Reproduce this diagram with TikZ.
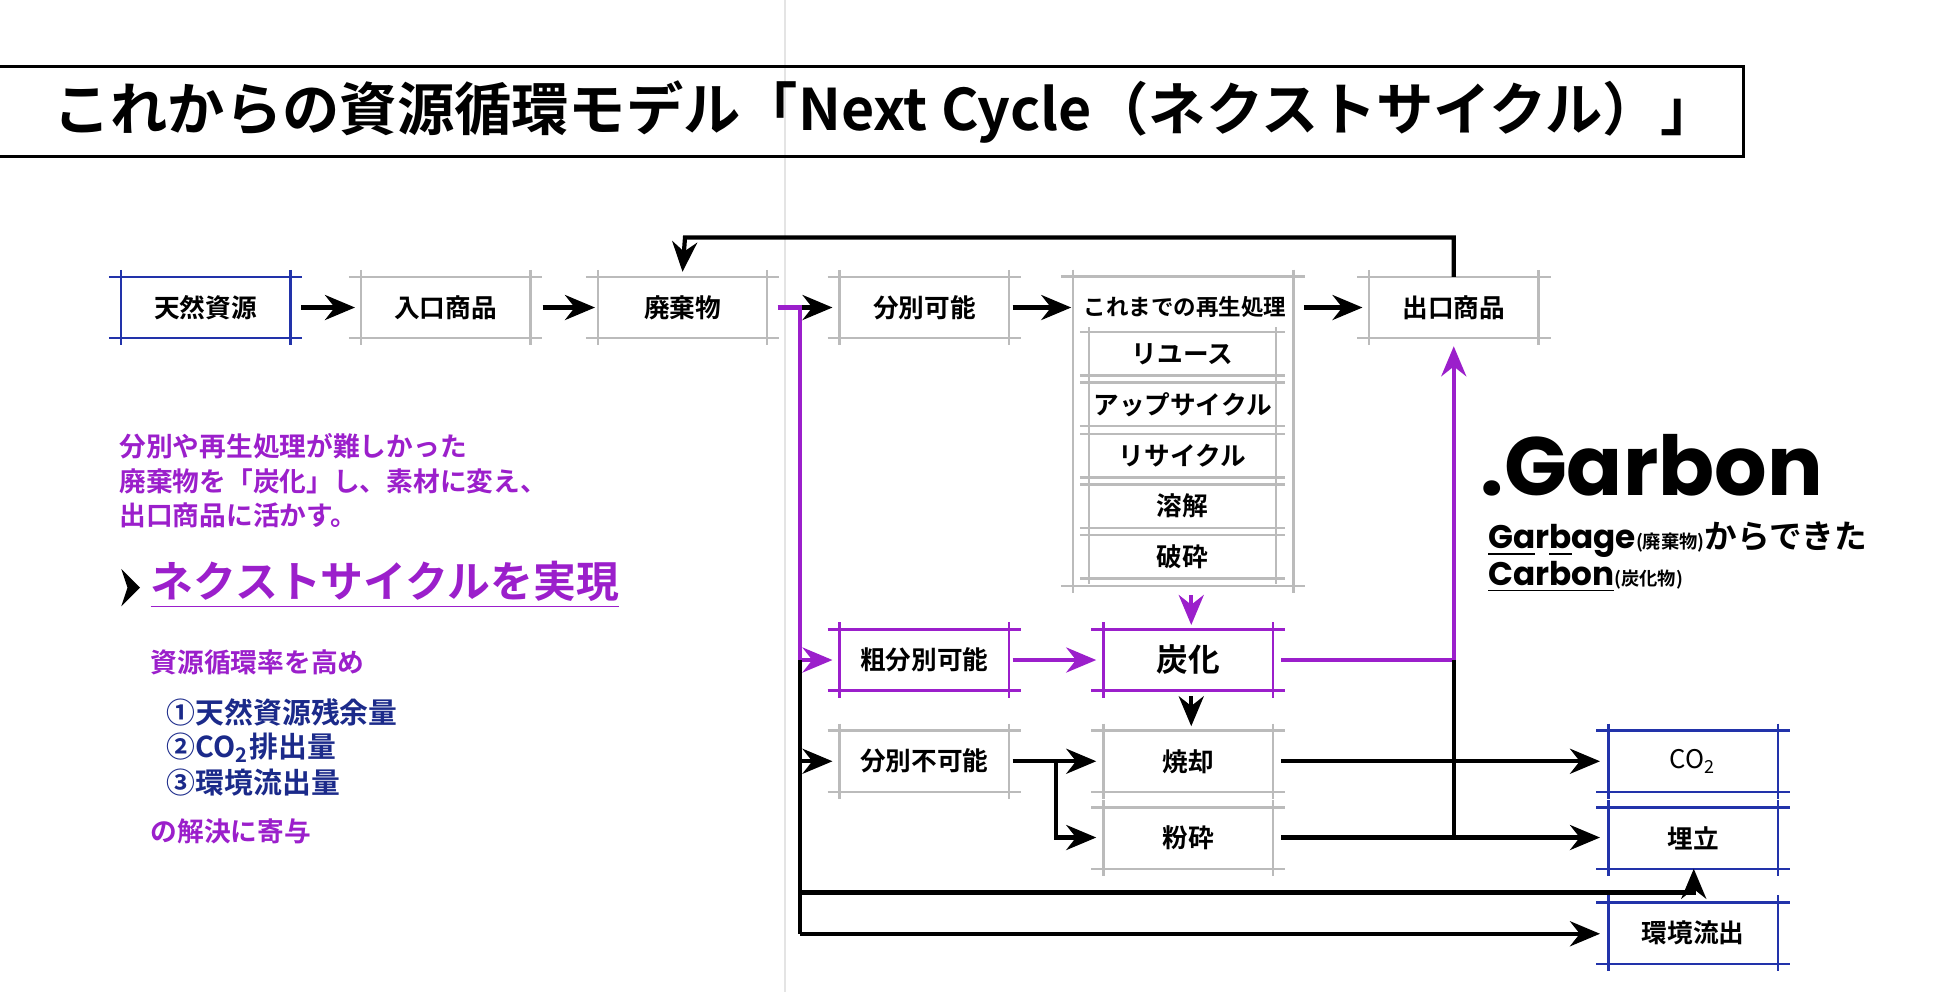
\documentclass[tikz,border=0pt]{standalone}
\usepackage{fontspec}
\setmainfont{Noto Sans CJK JP}[BoldFont={* Bold}]
\newfontfamily\pop{Poppins}
\usetikzlibrary{arrows.meta}
\definecolor{pur}{HTML}{9B1FCB}
\definecolor{bl}{HTML}{2233AA}
\definecolor{dbl}{HTML}{1B2A8A}
\definecolor{gr}{HTML}{BBBBBB}
\newcommand\frm[2]{%
 \draw[#2,line width=0.7pt] ([xshift=-1.2mm]#1.north west) -- ([xshift=1.2mm]#1.north east)
   ([xshift=-1.2mm]#1.south west) -- ([xshift=1.2mm]#1.south east)
   ([yshift=0.7mm]#1.north west) -- ([yshift=-0.7mm]#1.south west)
   ([yshift=0.7mm]#1.north east) -- ([yshift=-0.7mm]#1.south east);}
\begin{document}
\begin{tikzpicture}[x=0.0125cm,y=-0.0125cm,
 box/.style={minimum width=1.68cm,minimum height=0.6cm,inner sep=0pt,font=\fontsize{7.3pt}{8pt}\selectfont\bfseries},
 ibox/.style={minimum width=1.94cm,minimum height=0.42cm,inner sep=0pt,font=\fontsize{7.3pt}{8pt}\selectfont\bfseries},
 ar/.style={line width=1.2pt,-{Stealth[length=3mm,width=2.5mm]}},
 ln/.style={line width=1.2pt},
 lt/.style={anchor=west,inner sep=0pt,font=\fontsize{7.6pt}{9pt}\selectfont\bfseries}]
\useasboundingbox (0,0) rectangle (1560,793.6);
\draw[gr!40,line width=0.5pt] (628,0) -- (628,793.6);
% title
\draw[line width=0.9pt] (-5,53) rectangle (1395,125);
\node[anchor=west,inner sep=0pt,font=\fontsize{16.3pt}{18pt}\selectfont\bfseries] (title) at (42,90) {これからの資源循環モデル「Next Cycle（ネクストサイクル）」};
% row 1
\node[box] (tn) at (164.5,246) {天然資源};
\node[box] (ir) at (356.5,246) {入口商品};
\node[box] (hk) at (546,246) {廃棄物};
\node[box] (bk) at (739.5,246) {分別可能};
\node[box] (dg) at (1163,246) {出口商品};
\frm{tn}{bl}\frm{ir}{gr}\frm{hk}{gr}\frm{bk}{gr}\frm{dg}{gr}
% big box
\node[minimum width=2.19cm,minimum height=3.08cm,inner sep=0pt] (big) at (946.5,345) {};
\frm{big}{gr}
\node[inner sep=0pt,font=\fontsize{6.4pt}{7pt}\selectfont\bfseries] (hd) at (948,246) {これまでの再生処理};
\node[ibox] (r1) at (946,283) {リユース};
\node[ibox] (r2) at (946,323.5) {アップサイクル};
\node[ibox] (r3) at (946,364.5) {リサイクル};
\node[ibox] (r4) at (946,405) {溶解};
\node[ibox] (r5) at (946,445.5) {破砕};
\foreach \n in {r1,r2,r3,r4,r5}{
 \draw[gr,line width=0.7pt] ([xshift=-0.5mm]\n.north west) -- ([xshift=0.5mm]\n.north east)
  ([xshift=-0.5mm]\n.south west) -- ([xshift=0.5mm]\n.south east)
  ([xshift=0.4mm,yshift=0.5mm]\n.north west) -- ([xshift=0.4mm,yshift=-0.5mm]\n.south west)
  ([xshift=-0.4mm,yshift=0.5mm]\n.north east) -- ([xshift=-0.4mm,yshift=-0.5mm]\n.south east);}
% lower boxes
\node[box] (sb) at (739.5,528) {粗分別可能};
\node[box,font=\fontsize{9pt}{10pt}\selectfont\bfseries] (tk) at (950.5,528) {炭化};
\node[box] (fb) at (739.5,609) {分別不可能};
\node[box] (sk) at (950.5,609) {焼却};
\node[box] (fs) at (950.5,670.5) {粉砕};
\node[box,font=\fontsize{7.3pt}{8pt}\selectfont] (co) at (1354.5,609) {CO\textsubscript{2}};
\node[box] (um) at (1354.5,670.5) {埋立};
\node[box] (ks) at (1354.5,746.5) {環境流出};
\frm{sb}{pur}\frm{tk}{pur}\frm{fb}{gr}\frm{sk}{gr}\frm{fs}{gr}
\frm{co}{bl}\frm{um}{bl}\frm{ks}{bl}
% arrows row 1
\draw[ar] (241,246) -- (284,246);
\draw[ar] (434,246) -- (476,246);
\draw[ar] (810,246) -- (857,246);
\draw[ar] (1043,246) -- (1090,246);
\draw[ar] (640,246) -- (666,246);
\draw[pur,line width=1.2pt] (622,246) -- (640,246) -- (640,528);
\draw[ar] (dg.north) -- (1163,190) -- (548,190) -- ([yshift=0.5mm]hk.north);
% purple
\draw[ar,pur] (640,528) -- (666,528);
\draw[ar,pur] (810,528) -- (877,528);
\draw[ar,pur] (953,476) -- (953,500);
\draw[ar,pur] (1025,528) -- (1163,528) -- (1163,277);
% black lower
\draw[ln] (640,528) -- (640,747);
\draw[ar] (640,609) -- (666,609);
\draw[ar] (953,557) -- (953,581);
\draw[ar] (810,609) -- (877,609);
\draw[ar] (845,609) -- (845,670) -- (877,670);
\draw[ar] (1025,609) -- (1280,609);
\draw[ar] (1025,670) -- (1280,670);
\draw[ln] (1163,528) -- (1163,670);
\draw[ar] (640,714) -- (1355,714) -- (1355,695);
\draw[ar] (640,747) -- (1280,747);
% left text
\node[lt,text=pur] (t1) at (95,357) {分別や再生処理が難しかった};
\node[lt,text=pur] (t2) at (95,385) {廃棄物を「炭化」し、素材に変え、};
\node[lt,text=pur] (t3) at (95,412) {出口商品に活かす。};
\fill (97,455) -- (112,470) -- (97,485) -- (102,470) -- cycle;
\node[lt,text=pur,font=\fontsize{12.2pt}{14pt}\selectfont\bfseries] (t4) at (120,468) {\underline{ネクストサイクルを実現}};
\node[lt,text=pur] (t5) at (120,530) {資源循環率を高め};
\node[lt,text=dbl,font=\fontsize{8.2pt}{9pt}\selectfont\bfseries] (t6) at (133,570) {①天然資源残余量};
\node[lt,text=dbl,font=\fontsize{8.2pt}{9pt}\selectfont\bfseries] (t7) at (133,598) {②CO\textsubscript{2}排出量};
\node[lt,text=dbl,font=\fontsize{8.2pt}{9pt}\selectfont\bfseries] (t8) at (133,626) {③環境流出量};
\node[lt,text=pur] (t9) at (120,665) {の解決に寄与};
% Garbon
\node[anchor=west,inner sep=0pt,font=\fontsize{23.5pt}{26pt}\pop\bfseries] (gb) at (1184,372) {.Garbon};
\node[anchor=west,inner sep=0pt,font=\fontsize{9.3pt}{10pt}\bfseries] (g1) at (1190,432) {{\pop\underline{\smash{Ga}}r\underline{\smash{b}}age}{\fontsize{5.2pt}{6pt}\selectfont(廃棄物)}からできた};
\node[anchor=west,inner sep=0pt,font=\fontsize{9.3pt}{10pt}\bfseries] (g2) at (1190,465) {{\pop\underline{\smash{Carbon}}}{\fontsize{5.2pt}{6pt}\selectfont(炭化物)}};
\end{tikzpicture}
\end{document}
